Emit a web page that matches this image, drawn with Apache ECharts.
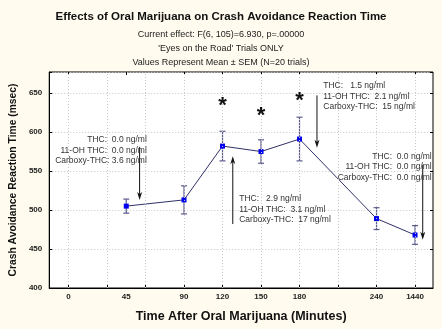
<!DOCTYPE html>
<html><head><meta charset="utf-8">
<script src="https://cdn.jsdelivr.net/npm/echarts@6/dist/echarts.min.js"></script>
<style>html,body{margin:0;padding:0;background:#fffbee}#c{width:442px;height:329px}</style>
</head><body><div id="c"></div>
<script>
// x tick positions (scaled minutes) and their labels
const tickPositions = [0, 45, 90, 120, 150, 180, 240, 270];
const tickLabels = ['0', '45', '90', '120', '150', '180', '240', '1440'];
const gridX = [0, 30, 60, 90, 120, 150, 180, 210, 240, 270];
// series
const timePos = [45, 90, 120, 150, 180, 240, 270];
const meanRT = [505, 513, 582, 575, 591, 489, 468];
const semRT = [9, 18, 19, 15, 28, 14, 12];
// significance stars
const starTimes = [120, 150, 180];
const starRT = [633, 621, 640];
// annotation blocks (anchor in data units: x, first-line y)
const annotX = [61, 133, 198.5, 283];
const annotY = [590, 514, 659, 569];
const annotAlign = ['right', 'left', 'left', 'right'];
const annotText = [
  ['THC:  0.0 ng/ml', '11-OH THC:  0.0 ng/ml', 'Carboxy-THC: 3.6 ng/ml'],
  ['THC:   2.9 ng/ml', '11-OH THC:  3.1 ng/ml', 'Carboxy-THC:  17 ng/ml'],
  ['THC:   1.5 ng/ml', '11-OH THC:  2.1 ng/ml', 'Carboxy-THC:  15 ng/ml'],
  ['THC:  0.0 ng/ml', '11-OH THC:  0.0 ng/ml', 'Carboxy-THC:  0.0 ng/ml']
];
// arrows (data units)
const arrowX = [55.4, 128, 193.6, 276];
const arrowFromY = [581, 482, 647, 558];
const arrowToY = [513, 569, 580, 462];

const FONT = '"Liberation Sans", Arial, sans-serif';
const chart = echarts.init(document.getElementById('c'), null, {renderer: 'canvas'});

const lineData = timePos.map((t, i) => [t, meanRT[i]]);
const errData = timePos.map((t, i) => [t, meanRT[i] - semRT[i], meanRT[i] + semRT[i]]);

chart.setOption({
  backgroundColor: '#fffbee',
  animation: false,
  title: {
    text: 'Effects of Oral Marijuana on Crash Avoidance Reaction Time',
    subtext: 'Current effect: F(6, 105)=6.930, p=.00000\n\'Eyes on the Road\' Trials ONLY\nValues Represent Mean \u00B1 SEM (N=20 trials)',
    left: 'center', top: 6, itemGap: 4,
    textStyle: {fontFamily: FONT, fontSize: 11.5, fontWeight: 'bold', color: '#111'},
    subtextStyle: {fontFamily: FONT, fontSize: 9, color: '#222', lineHeight: 14.3}
  },
  grid: {left: 45, right: 9, top: 72, bottom: 41, show: true, backgroundColor: '#ffffff', borderColor: '#000', borderWidth: 1},
  xAxis: [{
    type: 'value', min: -15, max: 284,
    name: 'Time After Oral Marijuana (Minutes)', nameLocation: 'middle', nameGap: 22,
    nameTextStyle: {fontFamily: FONT, fontSize: 12.5, fontWeight: 'bold', color: '#111'},
    axisLine: {show: true, onZero: false, lineStyle: {color: '#000'}},
    axisTick: {show: true, inside: true, length: 3, customValues: gridX, lineStyle: {color: '#000'}},
    axisLabel: {customValues: tickPositions, formatter: v => tickLabels[tickPositions.indexOf(v)],
      fontFamily: FONT, fontSize: 8, fontWeight: 'bold', color: '#222', margin: 5},
    splitLine: {show: false}
  }, {
    type: 'value', min: -15, max: 284, position: 'top',
    axisLine: {show: false},
    axisTick: {show: true, inside: true, length: 3, customValues: tickPositions, lineStyle: {color: '#000'}},
    axisLabel: {show: false},
    splitLine: {show: false}
  }],
  yAxis: [{
    type: 'value', min: 400, max: 677, interval: 50,
    name: 'Crash Avoidance Reaction Time (msec)', nameLocation: 'middle', nameGap: 27,
    nameTextStyle: {fontFamily: FONT, fontSize: 10.3, fontWeight: 'bold', color: '#111'},
    axisLine: {show: true, onZero: false, lineStyle: {color: '#000'}},
    axisTick: {show: true, inside: true, length: 3, lineStyle: {color: '#000'}},
    axisLabel: {formatter: v => (v % 50 === 0 ? String(v) : ''), fontFamily: FONT, fontSize: 8, fontWeight: 'bold', color: '#222', margin: 7},
    splitLine: {show: true, lineStyle: {color: '#c8c8c8', type: [1, 2]}}
  }, {
    type: 'value', min: 400, max: 677, interval: 50, position: 'right',
    axisLine: {show: false, onZero: false},
    axisTick: {show: true, inside: true, length: 3, lineStyle: {color: '#000'}},
    axisLabel: {show: false},
    splitLine: {show: false}
  }],
  series: [
    {
      type: 'line', data: gridX.map(g => [g, 400]), symbol: 'none', lineStyle: {opacity: 0}, silent: true,
      markLine: {silent: true, symbol: 'none', label: {show: false},
        lineStyle: {color: '#c8c8c8', type: [1, 2], width: 1},
        data: gridX.map(g => ({xAxis: g}))}
    },
    {
      type: 'custom', data: errData, z: 3,
      renderItem: (params, api) => {
        const x = api.value(0);
        const lo = api.coord([x, api.value(1)]);
        const hi = api.coord([x, api.value(2)]);
        const w = 3;
        const st = {stroke: '#5a5a8c', lineWidth: 1.2};
        return {type: 'group', children: [
          {type: 'line', shape: {x1: lo[0], y1: lo[1], x2: hi[0], y2: hi[1]}, style: st},
          {type: 'line', shape: {x1: lo[0] - w, y1: lo[1], x2: lo[0] + w, y2: lo[1]}, style: st},
          {type: 'line', shape: {x1: hi[0] - w, y1: hi[1], x2: hi[0] + w, y2: hi[1]}, style: st}
        ]};
      }
    },
    {
      type: 'line', data: lineData, z: 4,
      symbol: 'rect', symbolSize: 5,
      itemStyle: {color: '#0000ee'},
      lineStyle: {color: '#303068', width: 1}
    },
    {
      type: 'custom', data: starTimes.map((t, i) => [t, starRT[i]]), z: 5,
      renderItem: (params, api) => {
        const p = api.coord([api.value(0), api.value(1)]);
        return {type: 'text', x: p[0], y: p[1], style: {text: '*', align: 'center', verticalAlign: 'middle',
          font: 'bold 22px ' + FONT, fill: '#111'}};
      }
    },
    {
      type: 'custom', data: arrowX.map((x, i) => [x, arrowFromY[i], arrowToY[i]]), z: 6,
      renderItem: (params, api) => {
        const a = api.coord([api.value(0), api.value(1)]);
        const b = api.coord([api.value(0), api.value(2)]);
        const dir = b[1] > a[1] ? 1 : -1;
        const hl = 8, hw = 2.5;
        return {type: 'group', children: [
          {type: 'line', shape: {x1: a[0], y1: a[1], x2: b[0], y2: b[1] - dir * hl * 0.6}, style: {stroke: '#111', lineWidth: 1}},
          {type: 'polygon', shape: {points: [[b[0], b[1]], [b[0] - hw, b[1] - dir * hl], [b[0], b[1] - dir * hl * 0.7], [b[0] + hw, b[1] - dir * hl]]}, style: {fill: '#111'}}
        ]};
      }
    },
    {
      type: 'custom', data: annotX.map((x, i) => [x, annotY[i], i]), z: 6,
      renderItem: (params, api) => {
        const i = api.value(2);
        const p = api.coord([api.value(0), api.value(1)]);
        const lh = 10.5;
        return {type: 'text', x: p[0], y: p[1] - lh / 2, style: {text: annotText[i].join('\n'), align: annotAlign[i],
          verticalAlign: 'top', font: '8.5px ' + FONT, lineHeight: lh, fill: '#333'}};
      }
    }
  ]
});
</script>
</body></html>
